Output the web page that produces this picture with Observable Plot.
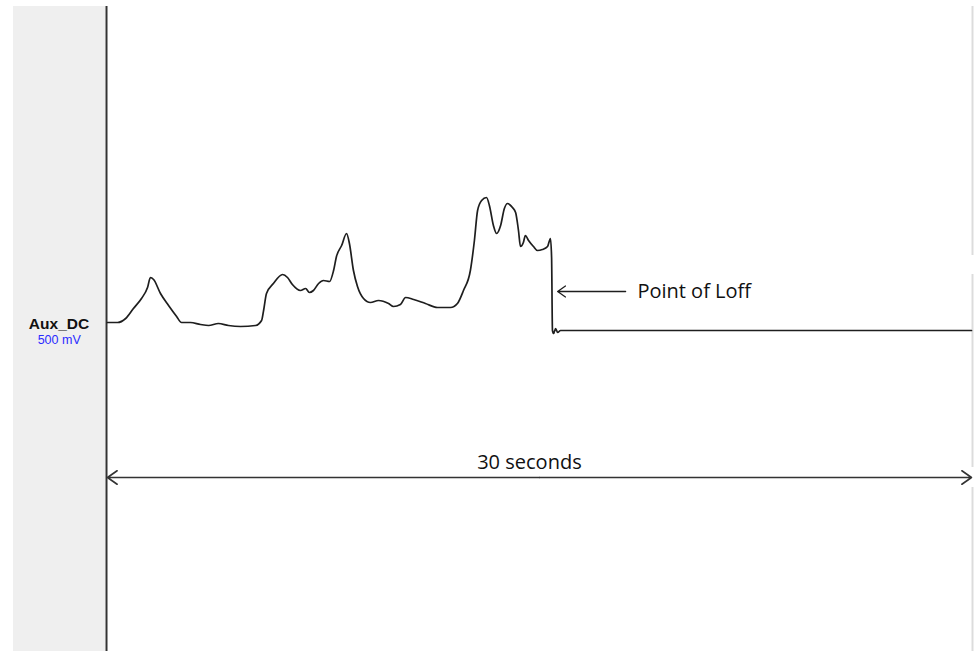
<!DOCTYPE html>
<html>
<head>
<meta charset="utf-8">
<script src="https://cdn.jsdelivr.net/npm/d3@7"></script>
<script src="https://cdn.jsdelivr.net/npm/@observablehq/plot@0.6"></script>
<style>
  html, body { margin: 0; padding: 0; background: #fff; }
  #chart svg {
    display: block;
    background: #fff linear-gradient(#efefef, #efefef) no-repeat 13px 6px / 92px 645px;
  }
</style>
</head>
<body>
<div id="chart"></div>
<script>
// Time in seconds (30 s span) and Aux_DC signal (mV, relative to baseline)
const time = [0.00,0.35,0.63,0.90,1.18,1.39,1.49,1.60,1.84,2.12,2.40,2.57,2.88,3.23,3.51,3.85,4.20,4.62,5.14,5.35,5.42,5.52,5.76,6.08,6.25,6.42,6.70,6.88,7.01,7.15,7.33,7.50,7.71,7.85,7.95,8.13,8.30,8.40,8.54,8.68,8.89,9.13,9.41,9.76,9.93,10.17,10.35,10.63,11.04,11.46,11.91,12.15,12.36,12.60,12.74,12.85,12.99,13.16,13.26,13.40,13.51,13.65,13.78,13.89,14.06,14.17,14.27,14.34,14.44,14.51,14.62,14.79,14.93,15.10,15.28,15.38,15.42,15.45,15.49,15.56,15.63,15.73,30.00];
const aux  = [40,40,60,110,160,215,265,255,185,125,70,40,40,30,25,35,25,20,25,50,100,185,235,280,265,230,200,210,190,200,235,250,245,300,370,425,485,435,300,220,160,140,150,135,120,130,165,155,135,115,115,135,200,300,450,600,650,665,625,525,485,525,610,635,615,590,500,420,440,475,450,420,400,405,420,460,365,0,-15,10,-10,0,0];

// Annotations
const channelLabels = ["Aux_DC", "500 mV"];
const loffLabel = ["Point of Loff"];
const spanLabel = ["30 seconds"];
const spanSeconds = [0, 30];

const traceRows = time.map((t, i) => ({t, v: aux[i]}));

const plot = Plot.plot({
  width: 975,
  height: 651,
  marginLeft: 107,
  marginRight: 4,
  marginTop: 0,
  marginBottom: 0,
  x: {domain: [0, 30], axis: null},
  y: {domain: [-1605, 1650], axis: null},
  marks: [
    // left axis line
    Plot.ruleX([spanSeconds[0]], {y1: 1620, y2: -1605, dx: -1, stroke: "#333", strokeWidth: 2}),
    // right light border (broken)
    Plot.ruleX([spanSeconds[1]], {y1: 1620, y2: 375, dx: 1, stroke: "#dcdcdc", strokeWidth: 2}),
    Plot.ruleX([spanSeconds[1]], {y1: 280, y2: -685, dx: 1, stroke: "#dcdcdc", strokeWidth: 2}),
    Plot.ruleX([spanSeconds[1]], {y1: -785, y2: -1605, dx: 1, stroke: "#dcdcdc", strokeWidth: 2}),
    // signal trace
    Plot.line(traceRows, {x: "t", y: "v", stroke: "#1e1e1e", strokeWidth: 1.7, curve: "monotone-x"}),
    // Loff arrow + label
    Plot.arrow([{x1: 17.99, x2: 15.63, y: 195}], {x1: "x1", x2: "x2", y1: "y", y2: "y", stroke: "#1e1e1e", strokeWidth: 1.3, headLength: 11, headAngle: 70}),
    Plot.text(loffLabel, {x: 18.40, y: 165, text: d => d, textAnchor: "start", lineAnchor: "bottom", fontSize: 20, fontFamily: "Open Sans", fill: "#111"}),
    // 30-second span double arrow
    Plot.arrow([{x1: 15, x2: spanSeconds[0]}, {x1: 15, x2: spanSeconds[1]}], {x1: "x1", x2: "x2", y1: -735, y2: -735, stroke: "#333", strokeWidth: 1.6, headLength: 11, headAngle: 70}),
    Plot.text(spanLabel, {x: 14.65, y: -692, text: d => d, textAnchor: "middle", lineAnchor: "bottom", fontSize: 20, fontFamily: "Open Sans", fill: "#111"}),
    // channel labels
    Plot.text([channelLabels[0]], {x: -1.684, y: 10, text: d => d, textAnchor: "middle", lineAnchor: "bottom", fontSize: 15.5, fontWeight: "bold", fontFamily: "Liberation Sans", fill: "#111"}),
    Plot.text([channelLabels[1]], {x: -1.677, y: -65, text: d => d, textAnchor: "middle", lineAnchor: "bottom", fontSize: 12.5, fontFamily: "Liberation Sans", fill: "#2b2bff"})
  ]
});
document.getElementById("chart").appendChild(plot);
</script>
</body>
</html>
